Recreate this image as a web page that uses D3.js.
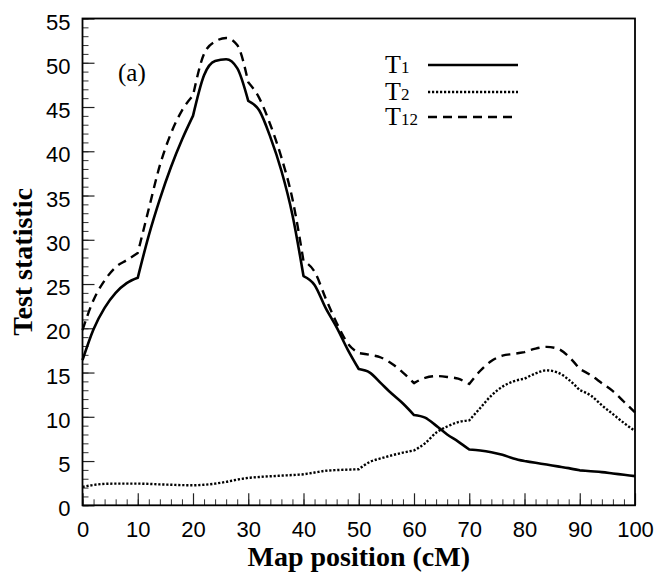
<!DOCTYPE html>
<meta charset="utf-8">
<html>
<head>
<style>
  body { margin: 0; background: #fff; }
  .tick text { font-family: "Liberation Sans", Arial, sans-serif; font-size: 22px; fill: #000; }
  .axtitle { font-family: "Liberation Serif", "Times New Roman", serif; font-weight: bold; font-size: 28px; }
  .serif { font-family: "Liberation Serif", "Times New Roman", serif; }
</style>
</head>
<body>
<div id="chart"></div>
<script src="https://d3js.org/d3.v7.min.js"></script>
<script>
// map positions (cM)
var positions = [0,2,4,6,8,10,12,14,16,18,20,22,24,26,28,30,32,34,36,38,40,
  42,44,46,48,50,52,54,56,58,60,62,64,66,68,70,72,74,76,78,80,
  82,84,86,88,90,92,94,96,98,100];

var t1 = [16.4,19.9,22.3,24.0,25.1,25.7,30.5,34.6,38.2,41.3,44.0,48.6,50.2,50.4,49.4,45.7,44.6,41.6,37.8,32.8,25.9,
  24.9,22.3,20.1,17.6,15.4,15.0,13.8,12.6,11.5,10.2,9.9,9.0,8.0,7.2,6.3,6.2,6.0,5.7,5.3,5.0,
  4.8,4.6,4.4,4.2,3.95,3.85,3.75,3.6,3.45,3.3];

var t2 = [2.07,2.3,2.42,2.45,2.45,2.45,2.42,2.36,2.32,2.28,2.26,2.32,2.45,2.65,2.9,3.1,3.2,3.28,3.35,3.42,3.5,
  3.7,3.9,3.98,4.03,4.07,4.9,5.3,5.65,5.95,6.2,7.0,8.2,8.9,9.4,9.6,11.0,12.4,13.4,14.0,14.3,
  14.9,15.25,15.0,14.2,13.0,12.4,11.3,10.3,9.3,8.4];

var t12 = [19.8,23.2,25.4,26.9,27.7,28.5,33.5,38.4,42.0,44.6,46.3,51.0,52.4,52.8,52.0,47.8,46.0,43.0,39.3,34.6,27.6,
  26.4,23.4,20.6,18.3,17.2,17.0,16.7,16.0,15.0,13.8,14.4,14.6,14.5,14.3,13.7,15.2,16.3,16.9,17.1,17.3,
  17.7,17.9,17.7,16.8,15.4,14.7,13.8,12.9,11.7,10.5];

var xTicks = [0,10,20,30,40,50,60,70,80,90,100];
var yTicks = [0,5,10,15,20,25,30,35,40,45,50,55];

var W = 656, H = 573;
var plotL = 82.5, plotR = 635, plotT = 18.5, plotB = 505.3;

var svg = d3.select("#chart").append("svg")
  .attr("width", W).attr("height", H);

var x = d3.scaleLinear().domain([0, 100]).range([plotL, plotR]);
var y = d3.scaleLinear().domain([0, 55]).range([plotB, plotT]);

// minor ticks
svg.append("g")
  .attr("transform", "translate(0," + plotB + ")")
  .call(d3.axisBottom(x).tickValues(d3.range(0, 101, 2)).tickSize(-6).tickFormat(""))
  .call(g => g.select(".domain").remove())
  .selectAll("line").attr("stroke", "#333");
svg.append("g")
  .attr("transform", "translate(" + plotL + ",0)")
  .call(d3.axisLeft(y).tickValues(d3.range(0, 56, 1)).tickSize(-6).tickFormat(""))
  .call(g => g.select(".domain").remove())
  .selectAll("line").attr("stroke", "#333");

// major ticks + labels
svg.append("g")
  .attr("transform", "translate(0," + plotB + ")")
  .call(d3.axisBottom(x).tickValues(xTicks).tickSize(-12).tickPadding(16).tickFormat(d3.format("d")))
  .call(g => g.select(".domain").remove())
  .selectAll("line").attr("stroke", "#222").attr("stroke-width", 1.2);
svg.append("g")
  .attr("transform", "translate(" + plotL + ",0)")
  .call(d3.axisLeft(y).tickValues(yTicks).tickSize(-12).tickPadding(12).tickFormat(d3.format("d")))
  .call(g => g.select(".domain").remove())
  .call(g => g.selectAll("text").attr("dy", "0.48em"))
  .selectAll("line").attr("stroke", "#222").attr("stroke-width", 1.2);

// frame
svg.append("rect")
  .attr("x", plotL).attr("y", plotT)
  .attr("width", plotR - plotL).attr("height", plotB - plotT)
  .attr("fill", "none").attr("stroke", "#000").attr("stroke-width", 1.8);

var series = [
  { name: "1", values: t1, dash: null, width: 2.6 },
  { name: "2", values: t2, dash: "2.2,1.8", width: 2.4 },
  { name: "12", values: t12, dash: "9,6", width: 2.4 }
];

var line = d3.line()
  .x(function(d) { return x(d[0]); })
  .y(function(d) { return y(d[1]); })
  .curve(d3.curveMonotoneX);

// curves are smooth between markers (every 10 cM) with kinks at the markers
function piecewise(pts) {
  var d = "";
  for (var m = 0; m < 100; m += 10) {
    var seg = pts.filter(function(p) { return p[0] >= m && p[0] <= m + 10; });
    var s = line(seg);
    d += (m === 0) ? s : s.replace(/^M[^A-Za-z]*/, "");
  }
  return d;
}

series.forEach(function(s) {
  svg.append("path")
    .attr("d", piecewise(positions.map(function(p, i) { return [p, s.values[i]]; })))
    .attr("fill", "none")
    .attr("stroke", "#000")
    .attr("stroke-width", s.width)
    .attr("stroke-dasharray", s.dash)
    .attr("stroke-linejoin", "round");
});

// legend
var legY = [65, 92, 117];
series.forEach(function(s, i) {
  var t = svg.append("text").attr("class", "serif")
    .attr("x", 385).attr("y", legY[i] + 8)
    .style("font-size", "26px");
  t.append("tspan").text("T");
  t.append("tspan").style("font-size", "17px").text(s.name);
  svg.append("line")
    .attr("x1", 428).attr("x2", 518)
    .attr("y1", legY[i]).attr("y2", legY[i])
    .attr("stroke", "#000")
    .attr("stroke-width", s.width)
    .attr("stroke-dasharray", s.dash);
});

svg.append("text").attr("class", "serif")
  .attr("x", 118).attr("y", 81)
  .style("font-size", "25px")
  .text("(a)");

// axis titles
svg.append("text").attr("class", "axtitle")
  .attr("x", (plotL + plotR) / 2).attr("y", 566)
  .attr("text-anchor", "middle")
  .text("Map position (cM)");
svg.append("text").attr("class", "axtitle")
  .attr("transform", "translate(32," + ((plotT + plotB) / 2) + ") rotate(-90)")
  .attr("text-anchor", "middle")
  .text("Test statistic");
</script>
</body>
</html>
